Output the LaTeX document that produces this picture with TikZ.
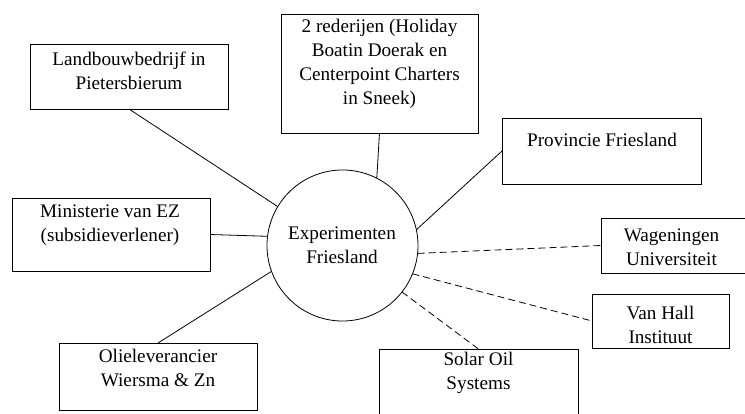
\documentclass[tikz,border=0pt]{standalone}
\usepackage{fontspec}
\setmainfont{Liberation Serif}
\begin{document}
\begin{tikzpicture}[x=1pt,y=-1pt,
  box/.style={draw,line width=0.8pt,inner sep=0pt,outer sep=0pt,rectangle},
  hub/.style={draw,line width=0.8pt,circle,inner sep=0pt,outer sep=0pt,minimum size=151pt},
  lbl/.style={align=center,inner sep=0pt,font=\fontsize{19.2}{24}\selectfont},
  link/.style={line width=0.8pt},
  dlink/.style={line width=0.8pt,dash pattern=on 7pt off 4pt}]
\useasboundingbox (0,0) rectangle (745,413);
\clip (0,0) rectangle (745,413);
\fill[white] (0,0) rectangle (745,413);
% boxes
\node[box,minimum width=198pt,minimum height=65pt] (lb) at (129,76.5) {};
\node[box,minimum width=197pt,minimum height=119pt] (rd) at (379.5,73.5) {};
\node[box,minimum width=199pt,minimum height=66pt] (pv) at (601.5,151) {};
\node[box,minimum width=198pt,minimum height=73pt] (mn) at (111,234.5) {};
\node[box,minimum width=198pt,minimum height=67pt] (ol) at (158,376.5) {};
\node[box,minimum width=199pt,minimum height=81pt] (so) at (478.5,389.5) {};
\node[box,minimum width=149pt,minimum height=55pt] (wg) at (675.5,245.5) {};
\node[box,minimum width=137pt,minimum height=54pt] (vh) at (660.5,321) {};
\node[hub] (c) at (342.5,245.5) {};
% texts
\node[lbl] (tlb) at (129,71) {Landbouwbedrijf in\\Pietersbierum};
\node[lbl] (trd) at (379.5,63.5) {2 rederijen (Holiday\\Boatin Doerak en\\Centerpoint Charters\\in Sneek)};
\node[lbl] (tpv) at (602,140) {Provincie Friesland};
\node[lbl] (tmn) at (110,225) {Ministerie van EZ\\(subsidieverlener)};
\node[lbl] (tol) at (158,367.5) {Olieleverancier\\Wiersma \& Zn};
\node[lbl] (tso) at (478.5,373) {Solar Oil\\Systems};
\node[lbl] (twg) at (671.5,247.5) {Wageningen\\Universiteit};
\node[lbl] (tvh) at (660.5,324.5) {Van Hall\\Instituut};
\node[lbl] (tc) at (342,245) {Experimenten\\Friesland};
% connectors
\draw[link] (lb.south) -- (c.149);
\draw[link] (rd.south) -- (c.63);
\draw[link] (pv.west) -- (c.12);
\draw[link] (mn.east) -- (c.173);
\draw[link] (ol.north) -- (c.200);
\draw[dlink] (c.-6) -- (wg.west);
\draw[dlink] (c.-22) -- (vh.west);
\draw[dlink] (c.-38) -- (so.north);
\end{tikzpicture}
\end{document}
